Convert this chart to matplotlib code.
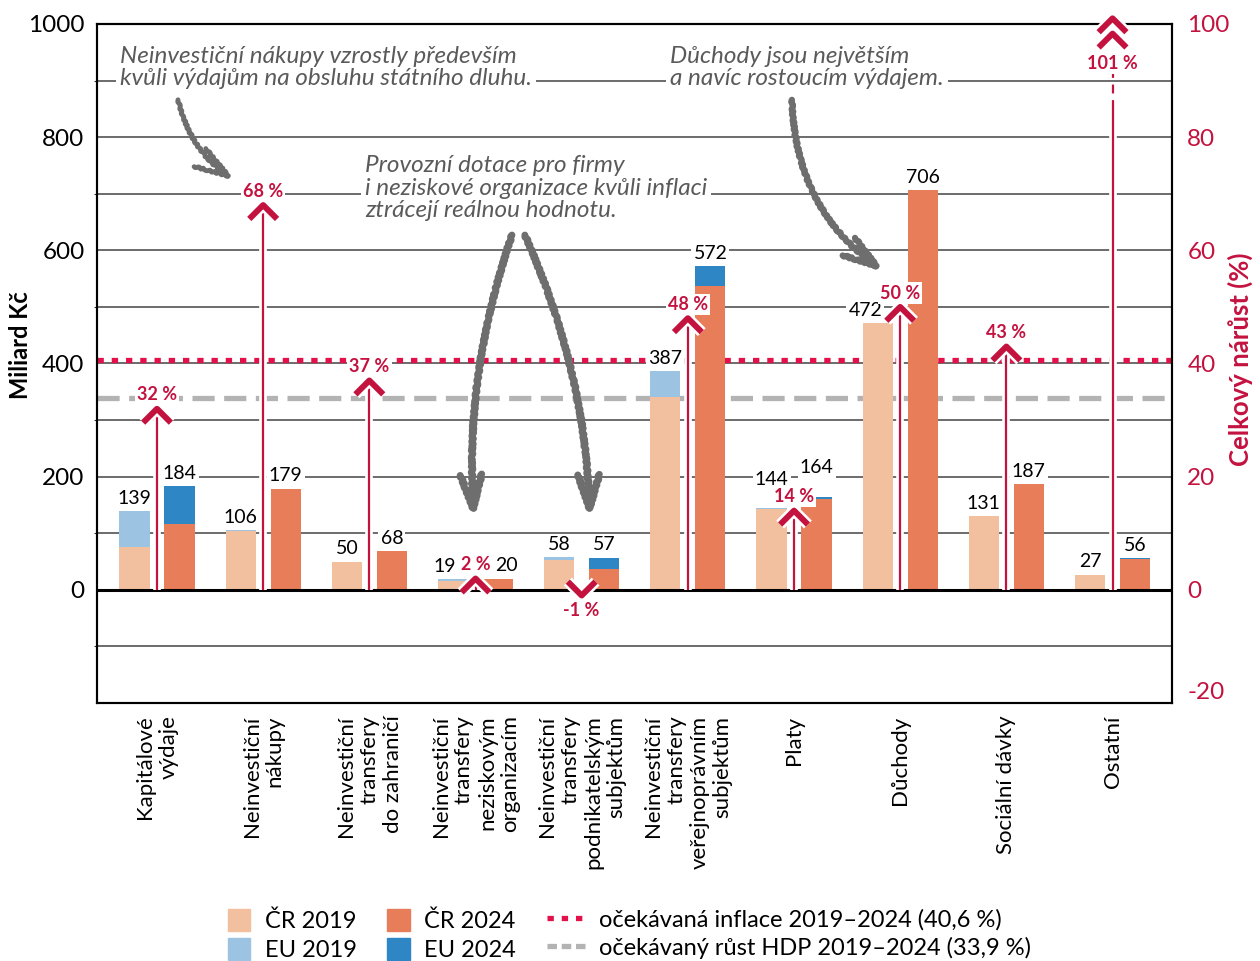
import matplotlib.pyplot as plt
from matplotlib.path import Path
from matplotlib.markers import MarkerStyle
from matplotlib.patches import Patch
from matplotlib.lines import Line2D
from matplotlib.transforms import blended_transform_factory
import matplotlib.patheffects as pe
import numpy as np

plt.rcParams['font.family'] = ['Lato', 'DejaVu Sans']
plt.rcParams['axes.unicode_minus'] = False

categories = ["Kapitálové\nvýdaje", "Neinvestiční\nnákupy", "Neinvestiční\ntransfery\ndo zahraničí",
              "Neinvestiční\ntransfery\nneziskovým\norganizacím", "Neinvestiční\ntransfery\npodnikatelským\nsubjektům",
              "Neinvestiční\ntransfery\nveřejnoprávním\nsubjektům", "Platy", "Důchody", "Sociální dávky", "Ostatní"]
cr2019 = [75, 104, 50, 15.5, 53, 340, 143, 472, 131, 27]
eu2019 = [64, 2, 0, 3.5, 5, 47, 1, 0, 0, 0]
cr2024 = [116, 179, 68, 19, 37.5, 537, 161, 706, 187, 54]
eu2024 = [68, 0, 0, 1, 19.5, 35, 3, 0, 0, 2]
total2019 = [139, 106, 50, 19, 58, 387, 144, 472, 131, 27]
total2024 = [184, 179, 68, 20, 57, 572, 164, 706, 187, 56]
growth = [32, 68, 37, 2, -1, 48, 14, 50, 43, 101]
inflation = 40.6
gdp = 33.9

c_cr19, c_eu19, c_cr24, c_eu24 = "#F2C09E", "#9DC3E2", "#E87D5A", "#2F86C4"
crimson = "#C4123F"
infl_col = "#E4104A"
gdp_col = "#B3B3B3"
note_col = "#5a5a5a"

fig = plt.figure(figsize=(12.6, 9.61), dpi=100)
ax = fig.add_axes([97/1260, 1-703/961, 1075/1260, 679/961])
ax2 = ax.twinx()

x = np.arange(len(categories))
w = 0.285
off = 0.212

# bars
ax.bar(x - off, cr2019, w, color=c_cr19, zorder=3)
ax.bar(x - off, eu2019, w, bottom=cr2019, color=c_eu19, zorder=3)
ax.bar(x + off, cr2024, w, color=c_cr24, zorder=3)
ax.bar(x + off, eu2024, w, bottom=cr2024, color=c_eu24, zorder=3)

ax.set_xlim(-0.565, len(categories) - 1 + 0.56)
ax.set_ylim(-200, 1000)
ax2.set_ylim(-20, 100)
ax.set_yticks(range(0, 1001, 200))
ax.set_yticks(range(-100, 1000, 200), minor=True)
ax.grid(axis='y', which='both', color='#444444', lw=1.1, zorder=0)
ax.axhline(0, color='black', lw=2.2, zorder=4)
ax2.set_yticks(range(-20, 101, 20))
ax2.yaxis.get_major_ticks()[0].label2.set_va('bottom')

ax.set_xticks(x)
ax.set_xticklabels(categories, rotation=90, ha='center', va='top', multialignment='right', fontsize=16)
ax.tick_params(axis='y', length=0, labelsize=17.5, pad=9)
ax.tick_params(axis='x', length=0, pad=9, labelsize=16)
ax2.tick_params(axis='y', length=0, labelsize=17.5, labelcolor=crimson, pad=11)
for s in ax.spines.values():
    s.set_linewidth(1.5)
for s in ax2.spines.values():
    s.set_linewidth(1.5)

fig.text(21/1260, 1-345/961, "Miliard Kč", rotation=90, ha='center', va='center', fontsize=17, fontweight='bold')
fig.text(1240/1260, 1-359/961, "Celkový nárůst (%)", rotation=90, ha='center', va='center', fontsize=18.5,
         fontweight='bold', color=crimson)

# reference lines (in % scale, drawn under the bars)
pct_trans = blended_transform_factory(ax.transAxes, ax2.transData)
ax.plot([0, 1], [inflation, inflation], transform=pct_trans, color=infl_col, lw=3.8, dashes=(1.2, 1.5),
        dash_capstyle='butt', zorder=2)
ax.plot([0, 1], [gdp, gdp], transform=pct_trans, color=gdp_col, lw=3.8, dashes=(4.2, 1.8),
        dash_capstyle='butt', zorder=2)

# value labels
white = dict(fc='white', ec='none', pad=1.5)
lab_dx19 = [0, 0, 0, -6, 0, 0, 0, -9, 0, 0]
lab_dx24 = [0, 0, 0, 6, 0, 0, 0, 0, 0, 0]
lab_dy = [3, 3, 3, 3, 3, 3, 15, 3, 3, 3]
for i in range(len(categories)):
    ax2.annotate(str(total2019[i]), xy=(x[i] - off, total2019[i]), xycoords=ax.transData,
                 xytext=(lab_dx19[i], lab_dy[i]), textcoords='offset points', ha='center', va='bottom',
                 fontsize=14, bbox=white, zorder=5)
    ax2.annotate(str(total2024[i]), xy=(x[i] + off, total2024[i]), xycoords=ax.transData,
                 xytext=(lab_dx24[i], lab_dy[i]), textcoords='offset points', ha='center', va='bottom',
                 fontsize=14, bbox=white, zorder=5)

# growth arrows
up = Path([(-1, -1), (0, 0), (1, -1)], [Path.MOVETO, Path.LINETO, Path.LINETO])
down = Path([(-1, 1), (0, 0), (1, 1)], [Path.MOVETO, Path.LINETO, Path.LINETO])
double = Path([(-1, -1), (0, 0), (1, -1), (-1, -2.1), (0, -1.1), (1, -2.1)],
              [Path.MOVETO, Path.LINETO, Path.LINETO, Path.MOVETO, Path.LINETO, Path.LINETO])
outline = [pe.Stroke(linewidth=8, foreground='white'), pe.Normal()]
line_outline = [pe.Stroke(linewidth=5.5, foreground='white'), pe.Normal()]
for i, g in enumerate(growth):
    if g > 100:
        ax2.vlines(x[i], 0, 85, color=crimson, lw=1.6, zorder=6, path_effects=line_outline)
        ax2.vlines(x[i], 85, 92, color=crimson, lw=1.6, linestyles=(0, (4, 3)), zorder=6)
        ax2.plot(x[i], g, marker=MarkerStyle(double, joinstyle='miter', capstyle='butt'), ms=42,
                 mew=4.3, mfc='none', mec=crimson, clip_on=False, zorder=7, path_effects=outline)
        ax2.annotate(f"{g} %", xy=(x[i], 93), ha='center', va='center', fontsize=13,
                     fontweight='bold', color=crimson, bbox=white, zorder=8)
        continue
    ax2.vlines(x[i], 0, g, color=crimson, lw=1.6, zorder=6, path_effects=line_outline)
    mk = up if g >= 0 else down
    ax2.plot(x[i], g, marker=MarkerStyle(mk, joinstyle='miter', capstyle='butt'), ms=20,
             mew=4.3, mfc='none', mec=crimson, zorder=7, path_effects=outline)
    dy = 10 if g >= 0 else -11
    ax2.annotate(f"{g} %", xy=(x[i], g), xytext=(0, dy), textcoords='offset points', ha='center',
                 va='center', fontsize=13, fontweight='bold', color=crimson, bbox=white, zorder=8)

# hand-written notes
note = dict(fontsize=17.5, style='italic', color=note_col, ha='left', va='center', linespacing=1.1,
            bbox=dict(fc='white', ec='none', pad=3), zorder=9)
ax2.text(-0.35, 923, "Neinvestiční nákupy vzrostly především\nkvůli výdajům na obsluhu státního dluhu.",
         transform=ax.transData, **note)
ax2.text(4.83, 923, "Důchody jsou největším\na navíc rostoucím výdajem.", transform=ax.transData, **note)
ax2.text(1.96, 710, "Provozní dotace pro firmy\ni neziskové organizace kvůli inflaci\nztrácejí reálnou hodnotu.",
         transform=ax.transData, **note)

arrows = [((0.198, 866), (0.734, 724), 0.2, 3.5),
          ((5.98, 866), (6.855, 562), 0.25, 4.5),
          ((3.343, 627), (2.985, 124), 0.1, 5),
          ((3.465, 627), (4.077, 124), -0.1, 5)]
for start, end, rad, lw in arrows:
    a = ax2.annotate("", xy=end, xytext=start, xycoords=ax.transData, textcoords=ax.transData,
                     annotation_clip=False, zorder=9,
                     arrowprops=dict(arrowstyle='->,head_length=1.1,head_width=0.35', lw=lw,
                                     color='#6e6e6e', connectionstyle=f'arc3,rad={rad}',
                                     mutation_scale=22, shrinkA=0, shrinkB=0))
    a.arrow_patch.set_sketch_params(0.8, 6, 2)

# legends
h1 = [Patch(color=c_cr19), Patch(color=c_eu19), Patch(color=c_cr24), Patch(color=c_eu24)]
fig.legend(h1, ["ČR 2019", "EU 2019", "ČR 2024", "EU 2024"], ncol=2, loc='upper left',
           bbox_to_anchor=(228/1260, 1-909/961), frameon=False, fontsize=17, handlelength=0.95,
           handleheight=1.05, handletextpad=0.6, columnspacing=1.3, labelspacing=0.25, borderpad=0,
           borderaxespad=0)
h2 = [Line2D([], [], color=infl_col, lw=3.8, dashes=(1.2, 1.5), dash_capstyle='butt'),
      Line2D([], [], color=gdp_col, lw=3.8, dashes=(1.8, 0.9), dash_capstyle='butt')]
fig.legend(h2, ["očekávaná inflace 2019–2024 (40,6 %)", "očekávaný růst HDP 2019–2024 (33,9 %)"],
           loc='upper left', bbox_to_anchor=(547/1260, 1-909/961), frameon=False, fontsize=17,
           handlelength=1.6, handletextpad=0.6, labelspacing=0.25, borderpad=0, borderaxespad=0)

fig.savefig("out.png", dpi=100)
